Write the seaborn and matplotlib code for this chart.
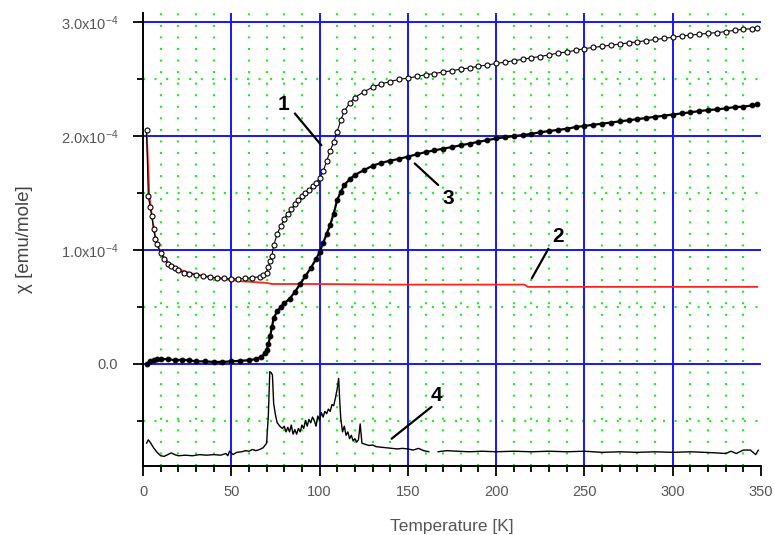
import numpy as np
import pandas as pd
import matplotlib
matplotlib.use("Agg")
import matplotlib.pyplot as plt
import seaborn as sns
from matplotlib.ticker import MultipleLocator, FixedLocator, FuncFormatter

# ---------------- data (chi in units of 1e-4 emu/mole) ----------------
t1 = [2, 3, 4, 5, 6, 7, 8, 10, 12, 14, 16, 18, 20, 23, 26, 30, 34, 38, 42, 46,
      50, 54, 58, 62, 66, 68, 70, 71, 72, 73, 74, 76, 78, 80, 82, 84, 86, 88, 90,
      92, 94, 96, 98, 100, 102, 104, 106, 108, 110, 112, 114, 117, 120, 125, 130,
      135, 140, 145, 150, 155, 160, 165, 170, 175, 180, 185, 190, 195, 200, 205,
      210, 215, 220, 225, 230, 235, 240, 245, 250, 255, 260, 265, 270, 275, 280,
      285, 290, 295, 300, 305, 310, 315, 320, 325, 330, 335, 340, 345, 348]
chi1 = [2.05, 1.47, 1.38, 1.30, 1.18, 1.10, 1.05, 0.97, 0.92, 0.88, 0.86, 0.84,
        0.82, 0.80, 0.79, 0.78, 0.77, 0.76, 0.755, 0.75, 0.745, 0.745, 0.75,
        0.755, 0.765, 0.775, 0.80, 0.85, 0.90, 0.95, 1.04, 1.14, 1.21, 1.27,
        1.32, 1.36, 1.40, 1.44, 1.47, 1.50, 1.53, 1.56, 1.59, 1.63, 1.69, 1.78,
        1.87, 1.95, 2.04, 2.14, 2.22, 2.29, 2.34, 2.39, 2.43, 2.46, 2.48, 2.50,
        2.51, 2.525, 2.54, 2.55, 2.565, 2.575, 2.59, 2.60, 2.615, 2.625, 2.64,
        2.65, 2.665, 2.675, 2.69, 2.70, 2.715, 2.73, 2.74, 2.755, 2.77, 2.78,
        2.79, 2.80, 2.81, 2.82, 2.83, 2.84, 2.85, 2.86, 2.87, 2.88, 2.89, 2.895,
        2.905, 2.91, 2.92, 2.93, 2.94, 2.945, 2.955]

t2 = [2, 3, 3.5, 4.5, 5.5, 7, 8, 10, 12, 15, 18, 22, 26, 30, 35, 40, 45, 50, 55,
      60, 65, 70, 73, 100, 140, 180, 216, 218, 260, 300, 348]
chi2 = [2.05, 1.72, 1.50, 1.36, 1.25, 1.12, 1.05, 0.98, 0.93, 0.88, 0.85, 0.82,
        0.80, 0.785, 0.77, 0.755, 0.745, 0.735, 0.725, 0.72, 0.715, 0.71, 0.70,
        0.70, 0.695, 0.695, 0.695, 0.675, 0.675, 0.675, 0.675]

t3 = [2, 4, 6, 8, 10, 14, 18, 22, 26, 30, 35, 40, 45, 50, 55, 60, 64, 67, 69,
      70, 71, 72, 73, 74, 76, 78, 80, 83, 86, 89, 92, 95, 98, 100, 102, 104, 106,
      108, 110, 112, 114, 117, 120, 125, 130, 135, 140, 145, 150, 155, 160, 165,
      170, 175, 180, 185, 190, 195, 200, 205, 210, 215, 220, 225, 230, 235, 240,
      245, 250, 255, 260, 265, 270, 275, 280, 285, 290, 295, 300, 305, 310, 315,
      320, 325, 330, 335, 340, 345, 348]
chi3 = [0.0, 0.02, 0.03, 0.04, 0.04, 0.04, 0.03, 0.035, 0.03, 0.02, 0.02, 0.015,
        0.015, 0.02, 0.025, 0.03, 0.04, 0.06, 0.09, 0.12, 0.17, 0.24, 0.32, 0.40,
        0.46, 0.50, 0.53, 0.57, 0.63, 0.70, 0.77, 0.84, 0.92, 0.98, 1.06, 1.14,
        1.22, 1.32, 1.44, 1.51, 1.57, 1.62, 1.66, 1.70, 1.74, 1.765, 1.785, 1.80,
        1.82, 1.84, 1.86, 1.875, 1.89, 1.905, 1.92, 1.935, 1.95, 1.965, 1.98,
        1.99, 2.00, 2.01, 2.02, 2.035, 2.045, 2.055, 2.065, 2.08, 2.09, 2.10,
        2.11, 2.12, 2.13, 2.14, 2.15, 2.16, 2.17, 2.18, 2.19, 2.20, 2.21, 2.22,
        2.23, 2.235, 2.245, 2.255, 2.26, 2.27, 2.28]

t4a = [2, 3, 4, 6, 8, 10, 12, 14, 16, 18, 20, 24, 28, 32, 36, 40, 44, 47, 48, 49,
       51, 53, 56, 58, 60, 62, 64, 66, 68, 70, 71, 71.8, 72.6, 73.3, 74, 75, 76,
       77.5, 79, 80, 81, 82, 83, 84, 85, 86, 87, 88, 89, 90, 91, 92, 93, 94, 95,
       96, 97, 98, 99, 100, 101, 102, 103, 104, 105, 106, 107, 108, 109, 110,
       110.8, 111.5, 112, 113, 114, 115, 116, 117, 118, 119, 120, 121, 122, 123,
       124, 126, 128, 130, 132, 135, 138, 141, 144, 147, 150, 153, 156, 159, 162]
chi4a = [-0.70, -0.67, -0.69, -0.74, -0.78, -0.81, -0.815, -0.80, -0.785, -0.80,
         -0.81, -0.805, -0.81, -0.80, -0.805, -0.80, -0.805, -0.79, -0.81, -0.77,
         -0.80, -0.78, -0.775, -0.765, -0.77, -0.755, -0.765, -0.755, -0.74,
         -0.70, -0.45, -0.07, -0.08, -0.10, -0.35, -0.45, -0.52, -0.55, -0.57,
         -0.55, -0.60, -0.56, -0.60, -0.54, -0.62, -0.58, -0.62, -0.57, -0.60,
         -0.54, -0.57, -0.50, -0.55, -0.49, -0.52, -0.47, -0.50, -0.55, -0.46,
         -0.50, -0.43, -0.47, -0.42, -0.44, -0.40, -0.42, -0.36, -0.37, -0.30,
         -0.22, -0.13, -0.35, -0.48, -0.60, -0.55, -0.63, -0.60, -0.66, -0.63,
         -0.68, -0.66, -0.69, -0.67, -0.53, -0.70, -0.71, -0.72, -0.715, -0.73,
         -0.735, -0.74, -0.745, -0.75, -0.745, -0.75, -0.76, -0.745, -0.765,
         -0.775]
t4b = [167, 172, 178, 185, 192, 200, 210, 220, 230, 240, 250, 260, 270, 280, 290,
       300, 310, 318, 325, 330, 333, 336, 340, 344, 347, 348.5]
chi4b = [-0.775, -0.765, -0.77, -0.775, -0.77, -0.775, -0.77, -0.775, -0.77,
         -0.775, -0.77, -0.78, -0.775, -0.78, -0.775, -0.78, -0.775, -0.78,
         -0.785, -0.79, -0.77, -0.79, -0.76, -0.76, -0.80, -0.76]

x_major = [0, 50, 100, 150, 200, 250, 300, 350]
y_major = [0, 1, 2, 3]
y_minor = [-0.5, 0.5, 1.5, 2.5]

labels = ["1", "2", "3", "4"]
label_pos = [(79.3, 2.28), (235.2, 1.115), (172.7, 1.45), (166.3, -0.28)]
leader_lines = [((86, 2.20), (101, 1.92)), ((220.2, 0.75), (229.6, 1.01)),
                ((153.9, 1.76), (167.2, 1.57)), ((140.8, -0.66), (163.4, -0.38))]

# ---------------- style ----------------
sns.set_style("white")
plt.rcParams["font.family"] = ["Liberation Sans", "DejaVu Sans"]
plt.rcParams["mathtext.fontset"] = "custom"
plt.rcParams["mathtext.rm"] = "Liberation Sans"
plt.rcParams["mathtext.it"] = "Liberation Sans:italic"

fig = plt.figure(figsize=(7.74, 5.35), dpi=100)
ax = fig.add_axes([143 / 774, 1 - 466 / 535, (761 - 143) / 774, (466 - 13) / 535])

# curves
sns.lineplot(x=t2, y=chi2, ax=ax, color="#ff2020", linewidth=1.3,
             estimator=None, sort=False, zorder=4)
sns.lineplot(x=t1, y=chi1, ax=ax, color="black", linewidth=0.8, marker="o",
             markersize=3.6, markerfacecolor="white", markeredgecolor="black",
             markeredgewidth=0.8, estimator=None, sort=False, zorder=5)
sns.lineplot(x=t3, y=chi3, ax=ax, color="black", linewidth=1.6, marker="o",
             markersize=3.4, markerfacecolor="black", markeredgecolor="black",
             estimator=None, sort=False, zorder=5)
sns.lineplot(x=t4a, y=chi4a, ax=ax, color="black", linewidth=1.0,
             estimator=None, sort=False, zorder=5)
sns.lineplot(x=t4b, y=chi4b, ax=ax, color="black", linewidth=1.0,
             estimator=None, sort=False, zorder=5)

# axes limits and ticks
ax.set_xlim(0, 350)
ax.set_ylim(-0.90, 3.083)
ax.xaxis.set_major_locator(FixedLocator(x_major))
ax.xaxis.set_minor_locator(MultipleLocator(10))
ax.yaxis.set_major_locator(FixedLocator(y_major))
ax.yaxis.set_minor_locator(FixedLocator(y_minor))


def yfmt(v, pos):
    if abs(v) < 1e-9:
        return "0.0"
    return "%.1fx10$^{-4}$" % v


ax.yaxis.set_major_formatter(FuncFormatter(yfmt))

ax.tick_params(axis="both", which="major", direction="out", length=7,
               width=1.3, color="black", labelcolor="#555555", labelsize=10.5)
ax.tick_params(axis="both", which="minor", direction="out", length=4,
               width=1.3, color="black")
ax.tick_params(axis="y", which="major", pad=11)
ax.tick_params(axis="x", which="major", pad=7)
ax.tick_params(bottom=True, left=True, which="both")

# grids: minor green dotted, major blue (vertical ones only inside the frame)
ax.set_axisbelow(True)
ax.grid(True, which="minor", color="#22e822", linewidth=1.6,
        linestyle=(0, (0.9, 4.3)))
ax.grid(True, which="major", axis="y", color="#1515ff", linewidth=1.4,
        linestyle="-")
for xv in x_major[1:-1]:
    ax.axvline(xv, color="#1515ff", linewidth=1.4, zorder=1)

for s in ["top", "right"]:
    ax.spines[s].set_visible(False)
for s in ["left", "bottom"]:
    ax.spines[s].set_color("black")
    ax.spines[s].set_linewidth(1.4)

ax.set_xlabel("Temperature [K]", color="#555555", fontsize=12.5, labelpad=14)
ax.set_ylabel("χ [emu/mole]", color="#444444", fontsize=13.5, labelpad=20)

# annotations
for lab, (tx, ty), ((x0, y0), (x1, y1)) in zip(labels, label_pos, leader_lines):
    ax.text(tx, ty, lab, fontsize=15, fontweight="bold", ha="center",
            va="center", color="black", zorder=6)
    ax.plot([x0, x1], [y0, y1], color="black", linewidth=1.6, zorder=6)

fig.savefig("out.png", dpi=100)
